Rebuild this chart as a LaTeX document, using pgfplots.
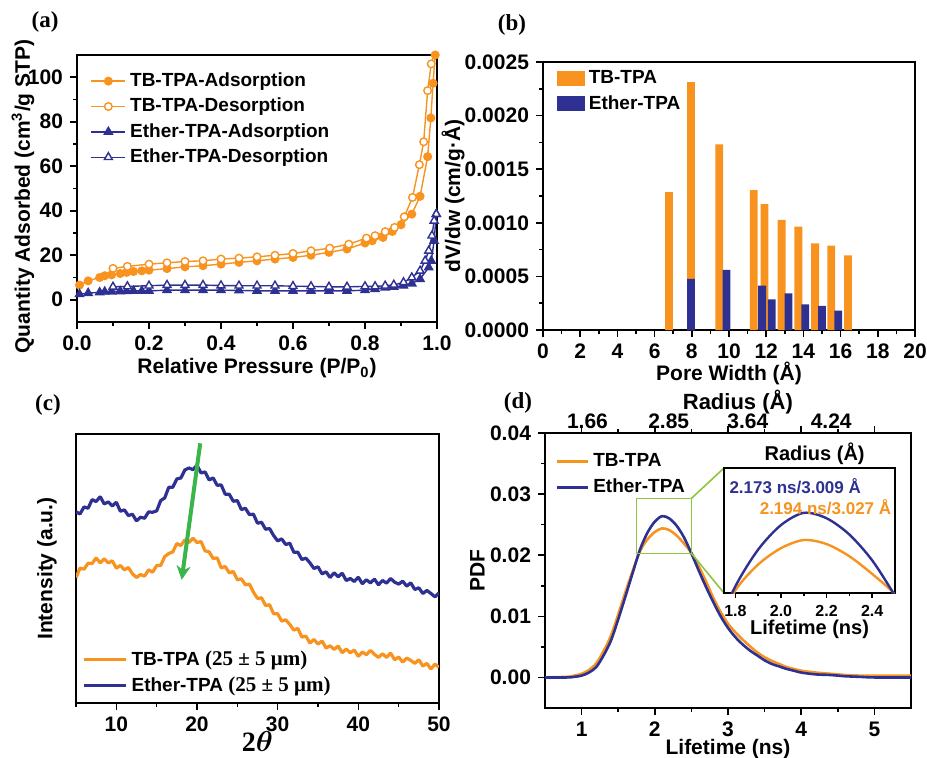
\documentclass[border=0pt]{standalone}
\usepackage{amsmath}
\usepackage{fontspec}
\setmainfont{Liberation Sans}
\newfontfamily\serifb{Liberation Serif}
\usepackage{pgfplots}
\usepackage{pgfplotstable}
\pgfplotsset{compat=1.18}
\usetikzlibrary{arrows.meta}

\definecolor{tbor}{HTML}{F7931E}
\definecolor{etbl}{HTML}{2E3192}
\definecolor{arrgr}{HTML}{39B54A}
\definecolor{boxgr}{HTML}{8DC63F}

\pgfplotsset{
  /pgf/number format/assume math mode=true,
  panel/.style={
    scale only axis, anchor=south west,
    axis line style={line width=1.1pt},
    every tick/.style={black, line width=0.8pt},
    major tick length=3.5pt, minor tick length=2pt,
    tick align=outside,
    xtick pos=left, ytick pos=left,
    tick label style={font=\bfseries\fontsize{10.5}{12}\selectfont},
    label style={font=\bfseries\fontsize{10.5}{12}\selectfont},
    xlabel style={yshift=3pt},
    legend style={draw=none, fill=none, font=\bfseries\fontsize{9.5}{11}\selectfont},
    legend cell align=left,
    scaled ticks=false,
    clip mode=individual,
  }
}

% PALS lifetime distributions (lifetime in ns, PDF)
\pgfplotstableread{
x y
0.5 0.0000
0.8 0.0001
0.9 0.0003
1.0 0.0006
1.1 0.0012
1.2 0.0023
1.3 0.0043
1.4 0.0068
1.5 0.0103
1.6 0.0140
1.7 0.0175
1.8 0.0207
1.9 0.0226
2.0 0.0238
2.1 0.0244
2.2 0.0241
2.3 0.0232
2.4 0.0219
2.5 0.0204
2.6 0.0182
2.7 0.0157
2.8 0.0130
2.9 0.0107
3.0 0.0088
3.1 0.0074
3.2 0.0062
3.3 0.0051
3.4 0.0041
3.5 0.0033
3.6 0.0027
3.7 0.0022
3.8 0.0017
3.9 0.0014
4.0 0.0011
4.2 0.0008
4.4 0.0006
4.6 0.0004
4.8 0.0003
5.0 0.0003
5.5 0.0003
}\pdftb
\pgfplotstableread{
x y
0.5 0.0000
0.8 0.0000
0.9 0.0001
1.0 0.0003
1.1 0.0008
1.2 0.0017
1.3 0.0036
1.4 0.0060
1.5 0.0095
1.6 0.0133
1.7 0.0172
1.8 0.0210
1.9 0.0237
2.0 0.0255
2.1 0.0264
2.2 0.0260
2.3 0.0248
2.4 0.0229
2.5 0.0203
2.6 0.0175
2.7 0.0148
2.8 0.0123
2.9 0.0100
3.0 0.0081
3.1 0.0066
3.2 0.0054
3.3 0.0044
3.4 0.0036
3.5 0.0028
3.6 0.0022
3.7 0.0018
3.8 0.0014
3.9 0.0011
4.0 0.0008
4.2 0.0005
4.4 0.0004
4.6 0.0002
4.8 0.0001
5.0 0.0000
5.5 0.0000
}\pdfet

\begin{document}
\begin{tikzpicture}
\path[use as bounding box] (0,0) rectangle (463.5pt,378.5pt);

% panel letters
\node[font=\serifb\bfseries\fontsize{11.5}{12}\selectfont] at (22.5pt,367.5pt) {(a)};
\node[font=\serifb\bfseries\fontsize{11.5}{12}\selectfont] at (256pt,366pt) {(b)};
\node[font=\serifb\bfseries\fontsize{11.5}{12}\selectfont] at (24pt,176pt) {(c)};
\node[font=\serifb\bfseries\fontsize{11.5}{12}\selectfont] at (259pt,177pt) {(d)};

% (a) isotherms
\begin{axis}[panel, at={(38.5pt,217.5pt)}, width=180pt, height=133.5pt,
  xmin=0, xmax=1, ymin=-10, ymax=110,
  xtick={0,0.2,0.4,0.6,0.8,1}, ytick={0,20,40,60,80,100},
  minor x tick num=1, minor y tick num=1,
  xticklabel style={/pgf/number format/.cd,fixed,fixed zerofill,precision=1},
  xlabel={Relative Pressure (P/P\textsubscript{0})},
  ylabel={Quantity Adsorbed (cm\textsuperscript{3}/g STP)},
  ylabel style={at={(axis description cs:-0.15,0.47)}, anchor=center},
  legend style={at={(0.02,0.965)}, anchor=north west, row sep=0.3pt}]
\addplot[tbor, line width=0.7pt, mark=*, mark size=1.9pt] coordinates {
(0.007,6.6)(0.031,8.5)(0.063,10)(0.077,10.8)(0.096,11.2)(0.12,11.8)(0.138,12.3)(0.157,12.7)(0.18,13)(0.2,13.3)(0.25,14)(0.3,14.8)(0.35,15.3)(0.4,16)(0.45,16.8)(0.5,17.5)(0.55,18.3)(0.6,19)(0.65,20)(0.7,21.3)(0.75,22.8)(0.8,25.5)(0.82,26.5)(0.85,28)(0.876,30.7)(0.9,33.7)(0.93,38.5)(0.953,46.5)(0.974,64.3)(0.983,81.7)(0.989,97.3)(0.995,110)};
\addlegendentry{TB-TPA-Adsorption}
\addplot[tbor, line width=0.7pt, mark=*, mark size=1.9pt, mark options={fill=white}] coordinates {
(0.995,112)(0.984,106)(0.974,94)(0.963,71)(0.951,60.7)(0.932,46)(0.909,37.3)(0.882,32.5)(0.856,30.6)(0.828,28.8)(0.804,27.7)(0.755,25)(0.702,23.2)(0.65,22)(0.6,20.8)(0.55,20)(0.5,19.3)(0.45,18.7)(0.4,18.3)(0.35,17.5)(0.3,17.2)(0.25,16.6)(0.2,16)(0.14,15)(0.1,14.1)};
\addlegendentry{TB-TPA-Desorption}
\addplot[etbl, line width=0.7pt, mark=triangle*, mark size=2.3pt] coordinates {
(0.007,2.5)(0.031,3)(0.063,3.3)(0.077,3.6)(0.096,3.7)(0.12,3.8)(0.138,3.9)(0.157,4)(0.18,4)(0.2,4)(0.25,4.3)(0.3,4.3)(0.35,4.3)(0.4,4.3)(0.45,4.2)(0.5,4)(0.55,4)(0.6,4)(0.65,4)(0.7,4)(0.75,4)(0.8,4.3)(0.828,4.8)(0.856,5.5)(0.88,5.8)(0.907,6.3)(0.93,7.3)(0.953,9.3)(0.977,14.5)(0.984,17.5)(0.992,26.5)(0.998,38.5)};
\addlegendentry{Ether-TPA-Adsorption}
\addplot[etbl, line width=0.7pt, mark=triangle*, mark size=2.3pt, mark options={fill=white}] coordinates {
(0.998,38.5)(0.992,35.5)(0.986,28.8)(0.977,22)(0.967,17.5)(0.953,13)(0.93,10)(0.907,7.8)(0.88,6.7)(0.856,6.3)(0.828,6)(0.8,6)(0.75,5.8)(0.7,5.8)(0.65,6)(0.6,6.1)(0.55,6.3)(0.5,6.3)(0.45,6.3)(0.4,6.4)(0.35,6.6)(0.3,6.6)(0.25,6.6)(0.2,6.3)(0.14,6)(0.1,5.8)};
\addlegendentry{Ether-TPA-Desorption}
\end{axis}

% (b) pore size distribution
\begin{axis}[panel, at={(271.5pt,213.5pt)}, width=186pt, height=134pt,
  xmin=0, xmax=20, ymin=0, ymax=0.0025,
  xtick={0,2,...,20}, ytick={0,0.0005,0.001,0.0015,0.002,0.0025},
  minor x tick num=1, minor y tick num=1,
  yticklabel style={/pgf/number format/.cd,fixed,fixed zerofill,precision=4},
  xlabel={Pore Width (Å)}, ylabel={dV/dw (cm/g·Å)},
  xlabel style={yshift=2.5pt},
  ylabel style={at={(axis description cs:-0.242,0.5)}, anchor=center},
  area legend,
  legend image code/.code={\fill[#1] (0pt,-3.8pt) rectangle (14pt,3.8pt);},
  legend style={at={(0.02,1.0)}, anchor=north west, row sep=0.5pt}]
\addplot[ybar, bar width=0.42, bar shift=0pt, fill=tbor, draw=none] coordinates {
(6.77,0.001286)(7.96,0.002313)(9.48,0.001731)(11.33,0.001304)(11.91,0.001174)(12.83,0.001027)(13.73,0.000965)(14.63,0.000809)(15.5,0.000788)(16.4,0.000697)};
\addlegendentry{TB-TPA}
\addplot[ybar, bar width=0.42, bar shift=0pt, fill=etbl, draw=none] coordinates {
(7.96,0.000476)(9.87,0.00056)(11.78,0.000414)(12.3,0.000286)(13.2,0.000342)(14.1,0.00024)(15.0,0.000224)(15.87,0.00018)};
\addlegendentry{Ether-TPA}
\end{axis}

% (c) XRD
\begin{axis}[panel, at={(38pt,27pt)}, width=181.5pt, height=134.5pt,
  xmin=5, xmax=50, ymin=0, ymax=808,
  xtick={10,20,...,50}, minor xtick={5,15,...,45}, ytick=\empty,
  xlabel={\serifb\bfseries\fontsize{14}{15}\selectfont 2$\boldsymbol{\theta}$},
  xlabel style={yshift=4pt},
  ylabel={Intensity (a.u.)},
  ylabel style={at={(axis description cs:-0.08,0.5)}, anchor=center},
  legend image code/.code={\draw[#1, line width=1.6pt] (0pt,0pt) -- (21pt,0pt);},
  legend style={at={(0.0,0.0)}, anchor=south west, row sep=0.5pt}]
\addplot[tbor, line width=1.6pt, line join=bevel] coordinates {
(5.0,377)(5.5,405)(6.0,402)(6.5,420)(7.0,419)(7.5,436)(8.0,421)(8.5,433)(9.0,421)(9.5,427)
(10.0,405)(10.5,413)(11.0,400)(11.5,407)(12.0,388)(12.5,377)(13.0,386)(13.5,381)(14.0,400)(14.5,393)
(15.0,413)(15.5,413)(16.0,440)(16.5,449)(17.0,454)(17.5,479)(18.0,473)(18.5,490)(19.0,482)(19.5,495)
(20.0,482)(20.5,485)(21.0,457)(21.5,454)(22.0,434)(22.5,436)(23.0,406)(23.5,410)(24.0,391)(24.5,395)
(25.0,370)(25.5,373)(26.0,355)(26.5,357)(27.0,333)(27.5,314)(28.0,316)(28.5,293)(29.0,295)(29.5,268)
(30.0,268)(30.5,246)(31.0,250)(31.5,236)(32.0,219)(32.5,224)(33.0,198)(33.5,201)(34.0,180)(34.5,191)
(35.0,177)(35.5,186)(36.0,165)(36.5,172)(37.0,161)(37.5,171)(38.0,151)(38.5,162)(39.0,151)(39.5,159)
(40.0,140)(40.5,153)(41.0,145)(41.5,158)(42.0,146)(42.5,137)(43.0,148)(43.5,137)(44.0,150)(44.5,130)
(45.0,138)(45.5,123)(46.0,135)(46.5,128)(47.0,119)(47.5,130)(48.0,111)(48.5,119)(49.0,102)(49.5,117)(50.0,107)};
\addlegendentry{TB-TPA {\serifb\bfseries\fontsize{10.5}{11}\selectfont (25 ± 5 μm)}}
\addplot[etbl, line width=1.6pt, line join=bevel] coordinates {
(5.0,574)(5.5,568)(6.0,589)(6.5,585)(7.0,611)(7.5,605)(8.0,620)(8.5,598)(9.0,604)(9.5,592)
(10.0,603)(10.5,576)(11.0,580)(11.5,563)(12.0,567)(12.5,547)(13.0,558)(13.5,555)(14.0,574)(14.5,573)
(15.0,577)(15.5,608)(16.0,616)(16.5,648)(17.0,648)(17.5,673)(18.0,676)(18.5,700)(19.0,706)(19.5,701)
(20.0,714)(20.5,691)(21.0,694)(21.5,670)(22.0,676)(22.5,654)(23.0,655)(23.5,627)(24.0,627)(24.5,606)
(25.0,608)(25.5,581)(26.0,585)(26.5,566)(27.0,567)(27.5,540)(28.0,543)(28.5,522)(29.0,524)(29.5,503)
(30.0,487)(30.5,493)(31.0,476)(31.5,480)(32.0,453)(32.5,453)(33.0,431)(33.5,435)(34.0,421)(34.5,404)
(35.0,409)(35.5,388)(36.0,394)(36.5,377)(37.0,391)(37.5,379)(38.0,390)(38.5,368)(39.0,374)(39.5,365)
(40.0,378)(40.5,358)(41.0,370)(41.5,361)(42.0,372)(42.5,355)(43.0,368)(43.5,360)(44.0,374)(44.5,363)
(45.0,357)(45.5,366)(46.0,351)(46.5,361)(47.0,341)(47.5,346)(48.0,329)(48.5,338)(49.0,329)(49.5,319)(50.0,331)};
\addlegendentry{Ether-TPA {\serifb\bfseries\fontsize{10.5}{11}\selectfont (25 ± 5 μm)}}
\draw[arrgr, line width=2pt, -{Stealth[length=7pt,width=7pt]}] (axis cs:20.4,780) -- (axis cs:18.1,370);
\end{axis}

% (d) PALS
\begin{axis}[panel, at={(272.5pt,24.5pt)}, width=183pt, height=137.5pt,
  xmin=0.5, xmax=5.5, ymin=-0.005, ymax=0.04,
  xtick={1,2,3,4,5}, ytick={0,0.01,0.02,0.03,0.04},
  minor x tick num=1, minor y tick num=1, xtick pos=both,
  yticklabel style={/pgf/number format/.cd,fixed,fixed zerofill,precision=2},
  xlabel={Lifetime (ns)}, ylabel={PDF},
  xlabel style={yshift=2.5pt},
  ylabel style={at={(axis description cs:-0.185,0.5)}, anchor=center},
  legend image code/.code={\draw[#1, line width=1.6pt] (0pt,0pt) -- (15.5pt,0pt);},
  legend style={at={(0.01,0.955)}, anchor=north west, row sep=0.5pt}]
\addplot[tbor, line width=1.3pt, smooth] table[x=x,y=y] {\pdftb};
\addlegendentry{TB-TPA}
\addplot[etbl, line width=1.3pt, smooth] table[x=x,y=y] {\pdfet};
\addlegendentry{Ether-TPA}
\draw[boxgr, line width=0.8pt] (axis cs:1.75,0.0203) rectangle (axis cs:2.5,0.0293);
\coordinate (gtr) at (axis cs:2.5,0.0293);
\coordinate (gbr) at (axis cs:2.5,0.0203);
\node[anchor=base, inner sep=0pt, font=\bfseries\fontsize{10.5}{12}\selectfont] at ([yshift=2.5pt]axis cs:1.08,0.04) {1.66};
\node[anchor=base, inner sep=0pt, font=\bfseries\fontsize{10.5}{12}\selectfont] at ([yshift=2.5pt]axis cs:2.19,0.04) {2.85};
\node[anchor=base, inner sep=0pt, font=\bfseries\fontsize{10.5}{12}\selectfont] at ([yshift=2.5pt]axis cs:3.27,0.04) {3.64};
\node[anchor=base, inner sep=0pt, font=\bfseries\fontsize{10.5}{12}\selectfont] at ([yshift=2.5pt]axis cs:4.41,0.04) {4.24};
\node[anchor=base, inner sep=0pt, font=\bfseries\fontsize{11}{13}\selectfont] at ([yshift=12pt]rel axis cs:0.527,1) {Radius (Å)};
\end{axis}

\draw[boxgr, line width=0.8pt] (gtr) -- (362pt,144.5pt);
\draw[boxgr, line width=0.8pt] (gbr) -- (362pt,82pt);

% inset
\begin{axis}[panel, at={(362pt,82pt)}, width=85.5pt, height=62.5pt,
  xmin=1.75, xmax=2.5, ymin=0.0205, ymax=0.0297,
  xtick={1.8,2.0,2.2,2.4}, minor x tick num=1, ytick=\empty,
  major tick length=2.5pt, minor tick length=1.5pt,
  axis background/.style={fill=white},
  xticklabel style={font=\bfseries\fontsize{8}{9}\selectfont,/pgf/number format/.cd,fixed,fixed zerofill,precision=1},
  xlabel={Lifetime (ns)},
  xlabel style={font=\bfseries\fontsize{10}{11}\selectfont, yshift=2pt}]
\addplot[tbor, line width=1.2pt, smooth] table[x=x,y=y] {\pdftb};
\addplot[etbl, line width=1.2pt, smooth] table[x=x,y=y] {\pdfet};
\node[anchor=west, inner sep=0pt, text=etbl, font=\bfseries\fontsize{8.5}{10}\selectfont] at (rel axis cs:0.03,0.856) {2.173 ns/3.009 Å};
\node[anchor=east, inner sep=0pt, text=tbor, font=\bfseries\fontsize{8.5}{10}\selectfont] at (rel axis cs:0.98,0.69) {2.194 ns/3.027 Å};
\node[inner sep=0pt, font=\bfseries\fontsize{10}{11}\selectfont] at (rel axis cs:0.53,1.11) {Radius (Å)};
\end{axis}
\end{tikzpicture}
\end{document}
